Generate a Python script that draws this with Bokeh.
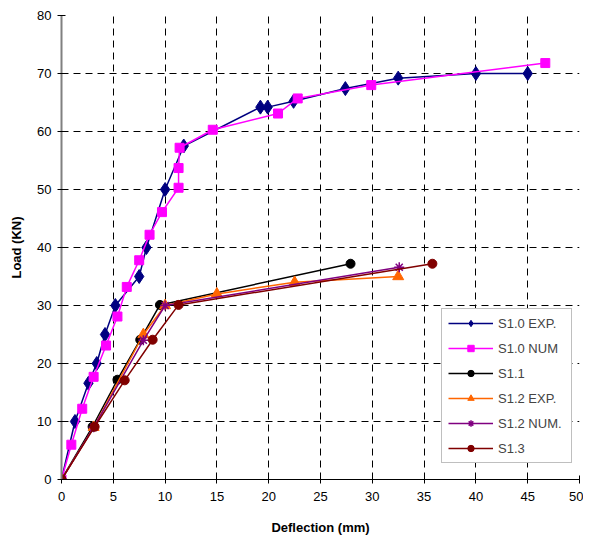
from bokeh.plotting import figure
from bokeh.models import FixedTicker, Range1d, Legend
from bokeh.embed import file_html
from bokeh.resources import INLINE

# ---- data ----
s10_exp_x = [0, 1.3, 2.6, 3.4, 4.2, 5.2, 7.5, 8.2, 10.0, 11.8, 19.2, 19.9, 22.4, 27.4, 32.5, 40.0, 45.0]
s10_exp_y = [0, 10.0, 16.6, 20.0, 25.0, 30.0, 35.0, 40.0, 50.0, 57.5, 64.2, 64.2, 65.2, 67.4, 69.2, 70.0, 70.0]

s10_num_x = [0, 0.95, 2.0, 3.1, 4.3, 5.4, 6.3, 7.5, 8.5, 9.7, 11.3, 11.3, 11.4, 14.6, 20.9, 22.8, 29.9, 46.7]
s10_num_y = [0, 6.0, 12.2, 17.7, 23.1, 28.1, 33.2, 37.8, 42.2, 46.1, 50.3, 53.7, 57.2, 60.3, 63.1, 65.7, 68.0, 71.8]

s11_x = [0, 3.0, 5.4, 7.6, 9.5, 27.9]
s11_y = [0, 9.1, 17.2, 24.1, 30.1, 37.2]

s12_exp_x = [0, 3.1, 7.9, 10.0, 15.0, 22.5, 32.5]
s12_exp_y = [0, 9.0, 25.0, 30.0, 32.0, 34.0, 35.0]

s12_num_x = [0, 3.1, 7.9, 10.0, 32.6]
s12_num_y = [0, 9.0, 24.0, 30.0, 36.6]

s13_x = [0, 3.2, 6.1, 8.8, 11.3, 35.8]
s13_y = [0, 9.1, 17.1, 24.1, 30.1, 37.2]

x_ticks = [0, 5, 10, 15, 20, 25, 30, 35, 40, 45, 50]
y_ticks = [0, 10, 20, 30, 40, 50, 60, 70, 80]

series = [
    ("S1.0 EXP.", s10_exp_x, s10_exp_y, "#000080", "diamond", 14),
    ("S1.0 NUM", s10_num_x, s10_num_y, "#FF00FF", "square", 9),
    ("S1.1", s11_x, s11_y, "#000000", "circle", 9),
    ("S1.2 EXP.", s12_exp_x, s12_exp_y, "#FF6600", "triangle", 11),
    ("S1.2 NUM.", s12_num_x, s12_num_y, "#800080", "asterisk", 10),
    ("S1.3", s13_x, s13_y, "#800000", "circle", 9),
]

FONT = "Liberation Sans"

p = figure(width=583, height=537, output_backend="svg", toolbar_location=None,
           x_range=Range1d(0, 50), y_range=Range1d(0, 80),
           min_border_left=61, min_border_right=4, min_border_top=15, min_border_bottom=57)
p.outline_line_color = None
p.background_fill_color = "white"

items = []
for name, xs, ys, color, marker, size in series:
    r1 = p.line(xs, ys, line_color=color, line_width=1.5)
    if marker == "asterisk":
        r2 = p.scatter(xs, ys, marker=marker, size=size, line_color=color, line_width=1.5)
    else:
        r2 = p.scatter(xs, ys, marker=marker, size=size, fill_color=color, line_color=color)
    items.append((name, [r1, r2]))

# axes
p.xaxis.ticker = FixedTicker(ticks=x_ticks)
p.yaxis.ticker = FixedTicker(ticks=y_ticks)
p.xaxis.minor_tick_line_color = None
p.yaxis.minor_tick_line_color = None
for ax in (p.xaxis, p.yaxis):
    ax.major_tick_in = 4
    ax.major_tick_out = 4
    ax.major_tick_line_color = "black"
    ax.major_label_text_font = FONT
    ax.major_label_text_font_size = "13px"
    ax.major_label_text_color = "black"
    ax.axis_label_text_font = FONT
    ax.axis_label_text_font_size = "13px"
    ax.axis_label_text_font_style = "bold"
    ax.axis_label_text_color = "black"
p.xaxis.axis_line_color = "black"
p.yaxis.axis_line_color = "#808080"
p.yaxis.axis_line_width = 2
p.xaxis.major_label_standoff = 8
p.yaxis.major_label_standoff = 6
p.xaxis.axis_label = "Deflection (mm)"
p.yaxis.axis_label = "Load (KN)"
p.xaxis.axis_label_standoff = 16
p.yaxis.axis_label_standoff = 10

# grid
p.xgrid.ticker = FixedTicker(ticks=x_ticks[1:-1])
p.ygrid.ticker = FixedTicker(ticks=y_ticks[1:-1])
for g in (p.xgrid, p.ygrid):
    g.grid_line_color = "black"
    g.grid_line_dash = "7 5"
    g.grid_line_width = 1

legend = Legend(items=items, location=(380, 16))
legend.border_line_color = "#808080"
legend.border_line_width = 1.5
legend.background_fill_color = "white"
legend.background_fill_alpha = 1
legend.label_text_font = FONT
legend.label_text_font_size = "13px"
legend.glyph_width = 45
legend.glyph_height = 16
legend.label_height = 16
legend.label_width = 67
legend.spacing = 9
legend.padding = 6
legend.margin = 0
legend.label_standoff = 5
p.add_layout(legend, "center")

open("out.html", "w").write(file_html(p, INLINE))
